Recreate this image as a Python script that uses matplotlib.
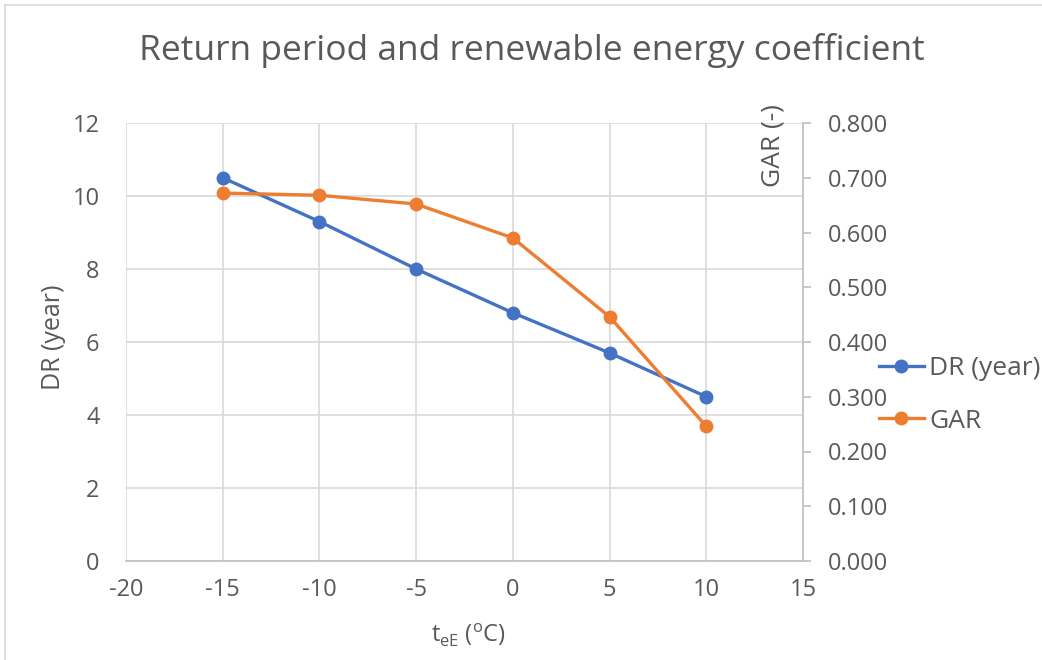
import matplotlib
matplotlib.use("Agg")
import matplotlib.pyplot as plt
from matplotlib.lines import Line2D

# Data
temps = [-15, -10, -5, 0, 5, 10]
dr_years = [10.5, 9.3, 8.0, 6.8, 5.7, 4.5]
gar = [0.672, 0.668, 0.652, 0.590, 0.446, 0.246]
x_ticks = [-20, -15, -10, -5, 0, 5, 10, 15]
left_ticks = [0, 2, 4, 6, 8, 10, 12]
right_ticks = [0.0, 0.1, 0.2, 0.3, 0.4, 0.5, 0.6, 0.7, 0.8]

BLUE = "#4472C4"
ORANGE = "#ED7D31"
GRID = "#D9D9D9"
TXT = "#595959"
AXL = "#BFBFBF"

plt.rcParams['font.family'] = ['Open Sans', 'DejaVu Sans']
plt.rcParams['axes.unicode_minus'] = False

W, H = 1042, 660
fig = plt.figure(figsize=(W / 100, H / 100), dpi=100)
fig.patch.set_facecolor("white")

# frame border (top and left)
fig.add_artist(Line2D([5 / W, 5 / W], [0, 1 - 5 / H], transform=fig.transFigure, color=GRID, lw=1.2))
fig.add_artist(Line2D([5 / W, 1], [1 - 5 / H, 1 - 5 / H], transform=fig.transFigure, color=GRID, lw=1.2))

l, r, t, b = 126, 803, 123, 561
ax = fig.add_axes([l / W, 1 - b / H, (r - l) / W, (b - t) / H])
ax2 = ax.twinx()

ax.set_xlim(-20, 15)
ax.set_ylim(0, 12)
ax2.set_ylim(0, 0.8)
ax.set_xticks(x_ticks)
ax.set_yticks(left_ticks)
ax2.set_yticks(right_ticks)
ax2.set_yticklabels([f"{v:.3f}" for v in right_ticks])

ax.grid(True, color=GRID, lw=1.2)
ax.set_axisbelow(True)
for s in ["top", "left"]:
    ax.spines[s].set_visible(False)
for s in ["top", "left", "bottom"]:
    ax2.spines[s].set_visible(False)
ax.spines["right"].set_visible(False)
ax.spines["bottom"].set_color(AXL)
ax.spines["bottom"].set_linewidth(1.2)
ax2.spines["right"].set_color(AXL)
ax2.spines["right"].set_linewidth(1.2)

ax.tick_params(axis="y", length=0, labelsize=17, labelcolor=TXT, pad=19)
ax.tick_params(axis="x", length=0, labelsize=17, labelcolor=TXT, pad=12)
ax2.tick_params(axis="y", length=6, color=AXL, width=1.2, labelsize=17, labelcolor=TXT, pad=12)

l1, = ax.plot(temps, dr_years, color=BLUE, lw=2.4, marker="o", ms=9, label="DR (year)", zorder=3)
l2, = ax2.plot(temps, gar, color=ORANGE, lw=2.4, marker="o", ms=9, label="GAR", zorder=3)

fig.text(532 / W, 1 - 50 / H, "Return period and renewable energy coefficient",
         ha="center", va="center", fontsize=25.5, color=TXT)
fig.text(53 / W, 1 - 337 / H, "DR (year)", rotation=90, ha="center", va="center",
         fontsize=18, color=TXT)
fig.text(773 / W, 1 - 146 / H, "GAR (-)", rotation=90, ha="center", va="center",
         fontsize=19, color=TXT)
fig.text(468 / W, 1 - 635 / H, r"t$_{\mathregular{eE}}$ ($^{\mathregular{o}}$C)",
         ha="center", va="center", fontsize=17, color=TXT)

leg = fig.legend(handles=[l1, l2], loc="upper left", bbox_to_anchor=(879 / W, 1 - 356 / H),
                 frameon=False, fontsize=19, labelcolor=TXT, handlelength=1.7,
                 handletextpad=0.2, labelspacing=1.05, borderaxespad=0, borderpad=0)

fig.savefig("out.png", dpi=100)
